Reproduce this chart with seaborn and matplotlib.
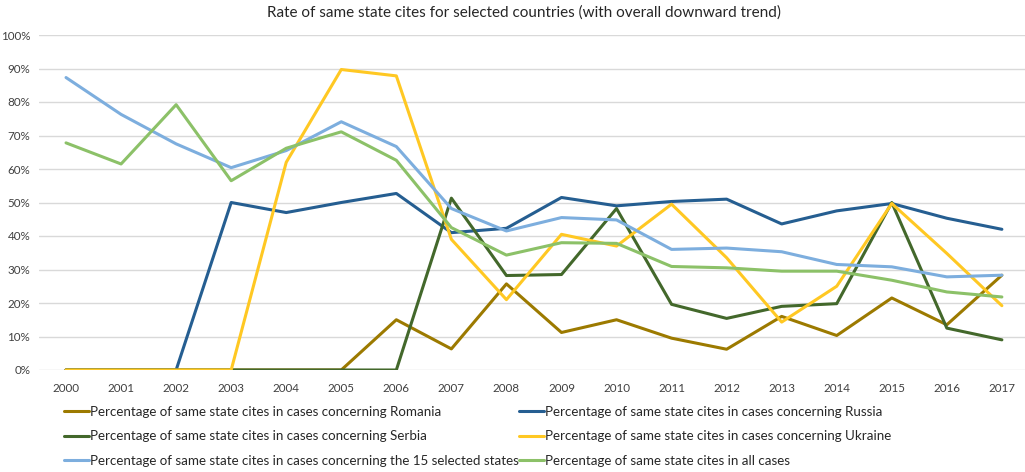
import matplotlib
matplotlib.use("Agg")
import matplotlib.pyplot as plt
import seaborn as sns
import pandas as pd
from matplotlib.ticker import PercentFormatter

years = list(range(2000, 2018))
romania = [0, 0, 0, 0, 0, 0, 15.0, 6.3, 25.7, 11.2, 15.0, 9.5, 6.2, 16.0, 10.3, 21.5, 13.5, 28.3]
russia = [0, 0, 0, 50.0, 47.0, 50.0, 52.7, 41.0, 42.3, 51.5, 49.0, 50.3, 51.0, 43.6, 47.5, 49.7, 45.3, 42.0]
serbia = [0, 0, 0, 0, 0, 0, 0, 51.3, 28.2, 28.5, 48.2, 19.6, 15.4, 19.0, 19.8, 50.0, 12.5, 9.0]
ukraine = [0, 0, 0, 0, 62.0, 89.7, 87.8, 39.0, 21.0, 40.5, 37.0, 49.5, 33.5, 14.3, 25.0, 49.7, 34.8, 19.2]
selected15 = [87.3, 76.3, 67.5, 60.4, 65.5, 74.1, 66.7, 48.2, 41.5, 45.5, 44.8, 36.0, 36.4, 35.3, 31.5, 30.8, 27.8, 28.3]
allcases = [67.8, 61.5, 79.2, 56.5, 66.2, 71.1, 62.6, 42.5, 34.3, 38.0, 37.8, 30.9, 30.5, 29.5, 29.5, 26.8, 23.3, 21.8]

names = [
    "Percentage of same state cites in cases concerning Romania",
    "Percentage of same state cites in cases concerning Russia",
    "Percentage of same state cites in cases concerning Serbia",
    "Percentage of same state cites in cases concerning Ukraine",
    "Percentage of same state cites in cases concerning the 15 selected states",
    "Percentage of same state cites in all cases",
]
series = [romania, russia, serbia, ukraine, selected15, allcases]
colors = ["#9C7A00", "#255E91", "#43682B", "#FFC823", "#7DAEDE", "#8CC168"]

rows = []
for n, vals in zip(names, series):
    for y, v in zip(years, vals):
        rows.append({"year": y, "value": v / 100.0, "series": n})
df = pd.DataFrame(rows)

sns.set_theme(style="white")
plt.rcParams["font.family"] = ["Lato", "DejaVu Sans"]

fig = plt.figure(figsize=(10.25, 4.72), dpi=100)
ax = fig.add_axes([38.5 / 1025, 1 - 370 / 472, 1 - 38.5 / 1025, 335 / 472])

palette = dict(zip(names, colors))
for n in names:
    sub = df[df["series"] == n]
    sns.lineplot(data=sub, x="year", y="value", color=palette[n], linewidth=2.2,
                 ax=ax, label=n, legend=False)

ax.set_xlim(1999.5, 2017.42)
ax.set_ylim(0, 1.0)
ax.set_yticks([i / 10 for i in range(11)])
ax.yaxis.set_major_formatter(PercentFormatter(1.0, decimals=0))
ax.set_xticks(years)
ax.set_xticklabels([str(y) for y in years])
ax.grid(axis="y", color="#D9D9D9", linewidth=1.0)
ax.grid(axis="x", visible=False)
ax.set_axisbelow(True)
for s in ax.spines.values():
    s.set_visible(False)
ax.tick_params(axis="both", length=0, labelsize=8.4, labelcolor="#404040", pad=6)
ax.tick_params(axis="x", pad=9)
ax.set_xlabel("")
ax.set_ylabel("")

fig.text(524 / 1025, 1 - 13 / 472, "Rate of same state cites for selected countries (with overall downward trend)",
         ha="center", va="center", fontsize=11.0, color="#262626")

handles, labels = ax.get_legend_handles_labels()
order = [0, 2, 4, 1, 3, 5]
leg = fig.legend([handles[i] for i in order], [labels[i] for i in order],
                 loc="upper left", bbox_to_anchor=(52 / 1025, 1 - 394 / 472), ncol=2,
                 frameon=False, fontsize=9.6, handlelength=1.85, handletextpad=0.12,
                 columnspacing=0.0, labelspacing=0.92, labelcolor="#262626")

fig.savefig("out.png", dpi=100)
